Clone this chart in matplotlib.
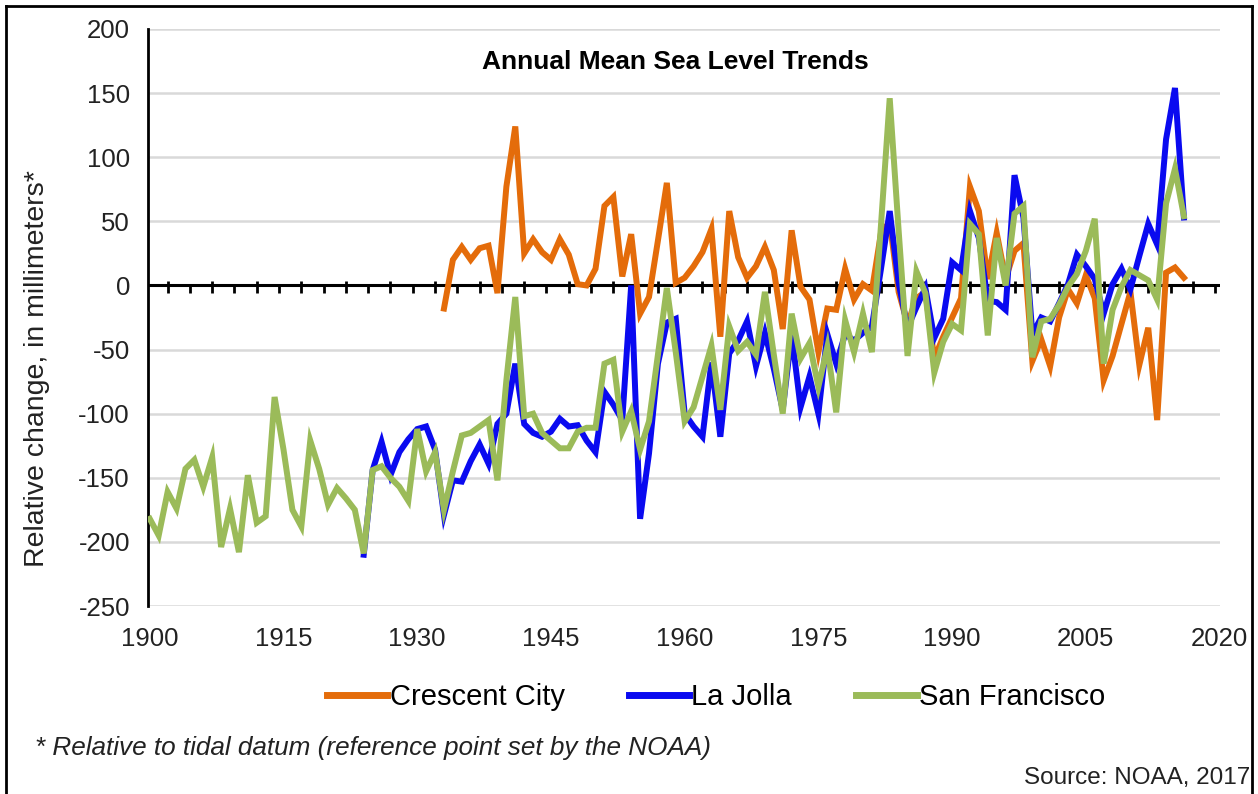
import matplotlib
matplotlib.use('Agg')
import matplotlib.pyplot as plt
from matplotlib.lines import Line2D
import numpy as np

plt.rcParams['font.family'] = ['Liberation Sans', 'DejaVu Sans']
plt.rcParams['axes.unicode_minus'] = False

# Annual mean sea level, relative change in mm
years_sf = list(range(1900, 2017))
san_francisco = [
    -182, -195, -161, -174, -143, -136, -157, -134, -204, -174,
    -208, -148, -185, -180, -87, -128, -175, -188, -121, -143,
    -171, -158, -166, -175, -209, -144, -141, -150, -157, -168,
    -112, -145, -130, -175, -145, -117, -115, -110, -105, -152,
    -74, -9, -102, -100, -115, -121, -127, -127, -114, -111,
    -111, -61, -58, -114, -98, -128, -106, -54, -2, -52,
    -106, -95, -71, -47, -97, -32, -51, -44, -54, -5,
    -54, -100, -22, -57, -45, -79, -48, -99, -27, -52,
    -22, -52, 45, 146, 43, -55, 11, -6, -68, -44,
    -30, -35, 48, 40, -39, 37, 0, 56, 62, -56,
    -28, -26, -15, -1, 9, 27, 52, -61, -19, -1,
    12, 8, 4, -11, 64, 91, 54,
]

years_lj = list(range(1924, 2017))
la_jolla = [
    -210, -144, -122, -148, -130, -120,
    -112, -110, -128, -179, -152, -153, -137, -124, -139, -108,
    -100, -61, -108, -115, -118, -114, -104, -110, -109, -121,
    -130, -83, -93, -105, 0, -182, -131, -61, -29, -26,
    -100, -110, -118, -60, -118, -53, -43, -28, -63, -37,
    -65, -97, -38, -95, -71, -100, -38, -61, -38, -43,
    -37, -32, 12, 58, 2, -33, -17, -2, -41, -26,
    18, 12, 58, 37, -12, -13, -19, 86, 53, -38,
    -25, -28, -14, 1, 24, 15, 5, -22, 1, 13,
    -3, 23, 48, 32, 114, 154, 53,
]

years_cc = list(range(1933, 2017))
crescent_city = [
    -18, 20, 30, 20, 29, 31, -6,
    77, 124, 25, 36, 26, 20, 36, 24, 1, 0,
    13, 62, 69, 7, 40, -22, -9, 35, 80, 2,
    6, 15, 26, 44, -40, 58, 22, 6, 15, 30,
    12, -34, 43, -1, -11, -52, -18, -19, 13, -11,
    1, -4, 40, 50, -5, -30, -10, -5, -57, -40,
    -25, -10, 77, 58, 5, 41, 5, 27, 33, -59,
    -42, -63, -25, -3, -14, 8, -10, -74, -55, -30,
    -5, -62, -33, -105, 10, 14, 6,
]

x_ticks = [1900, 1915, 1930, 1945, 1960, 1975, 1990, 2005, 2020]
y_ticks = list(range(-250, 201, 50))

orange = '#E46C0A'
blue = '#0A0AF0'
green = '#9BBB59'

W, H = 1258, 794
fig = plt.figure(figsize=(W / 100, H / 100), dpi=100)
ax = fig.add_axes([148 / W, 1 - 606 / H, (1220 - 148) / W, (606 - 29) / H])

ax.plot(years_cc, crescent_city, color=orange, lw=4.3, solid_joinstyle='miter', zorder=3)
ax.plot(years_lj, la_jolla, color=blue, lw=4.3, solid_joinstyle='miter', zorder=4)
ax.plot(years_sf, san_francisco, color=green, lw=4.3, solid_joinstyle='miter', zorder=5)

ax.set_xlim(1899.8, 2020.05)
ax.set_ylim(-250, 200)
ax.set_xticks(x_ticks)
ax.set_yticks(y_ticks)
ax.yaxis.grid(True, color='#D9D9D9', lw=1.8)
ax.set_axisbelow(True)
ax.tick_params(axis='both', length=0, labelsize=18.5, colors='#222222')
ax.tick_params(axis='y', pad=13)
ax.tick_params(axis='x', pad=15)
for side in ['top', 'right', 'bottom']:
    ax.spines[side].set_visible(False)
ax.spines['left'].set_linewidth(2)
ax.spines['left'].set_color('black')

# horizontal axis line drawn at zero with its own tick marks
ax.axhline(0, color='black', lw=2.2, zorder=2)
zero_frac = 250 / 450
tick_len = 8 / 577
long_ticks = np.arange(1902, 2018, 5)
short_ticks = np.arange(1904.5, 2020, 5)
tr = ax.get_xaxis_transform()
ax.vlines(long_ticks, zero_frac - tick_len, zero_frac + 0.6 * tick_len, color='black', lw=2, transform=tr, zorder=2)
ax.vlines(short_ticks, zero_frac - tick_len, zero_frac, color='black', lw=2, transform=tr, zorder=2)

ax.set_ylabel('Relative change, in millimeters*', fontsize=20.5, color='#222222')
ax.yaxis.set_label_coords((50 - 148) / 1072, (606 - 369) / 577)

fig.text(675 / W, 1 - 62 / H, 'Annual Mean Sea Level Trends', ha='center', va='center',
         fontsize=19, fontweight='bold')

handles = [Line2D([], [], color=c, lw=5) for c in (orange, blue, green)]
fig.legend(handles, ['Crescent City', 'La Jolla', 'San Francisco'], loc='center',
           bbox_to_anchor=(716 / W, 1 - 697 / H), ncol=3, frameon=False, fontsize=21,
           handlelength=2.07, handletextpad=0.08, columnspacing=2.2)

fig.text(35 / W, 1 - 748 / H, '* Relative to tidal datum (reference point set by the NOAA)',
         ha='left', va='center', fontsize=18.8, style='italic', color='#222222')
fig.text(1250 / W, 1 - 778 / H, 'Source: NOAA, 2017', ha='right', va='center',
         fontsize=17.5, color='#222222')

# outer frame
for xs, ys in [([6, 6], [6, H + 2]), ([6, 1252], [6, 6]), ([1252, 1252], [6, H + 2])]:
    fig.add_artist(Line2D([x / W for x in xs], [1 - y / H for y in ys], color='black', lw=2))

fig.savefig('out.png', dpi=100)
